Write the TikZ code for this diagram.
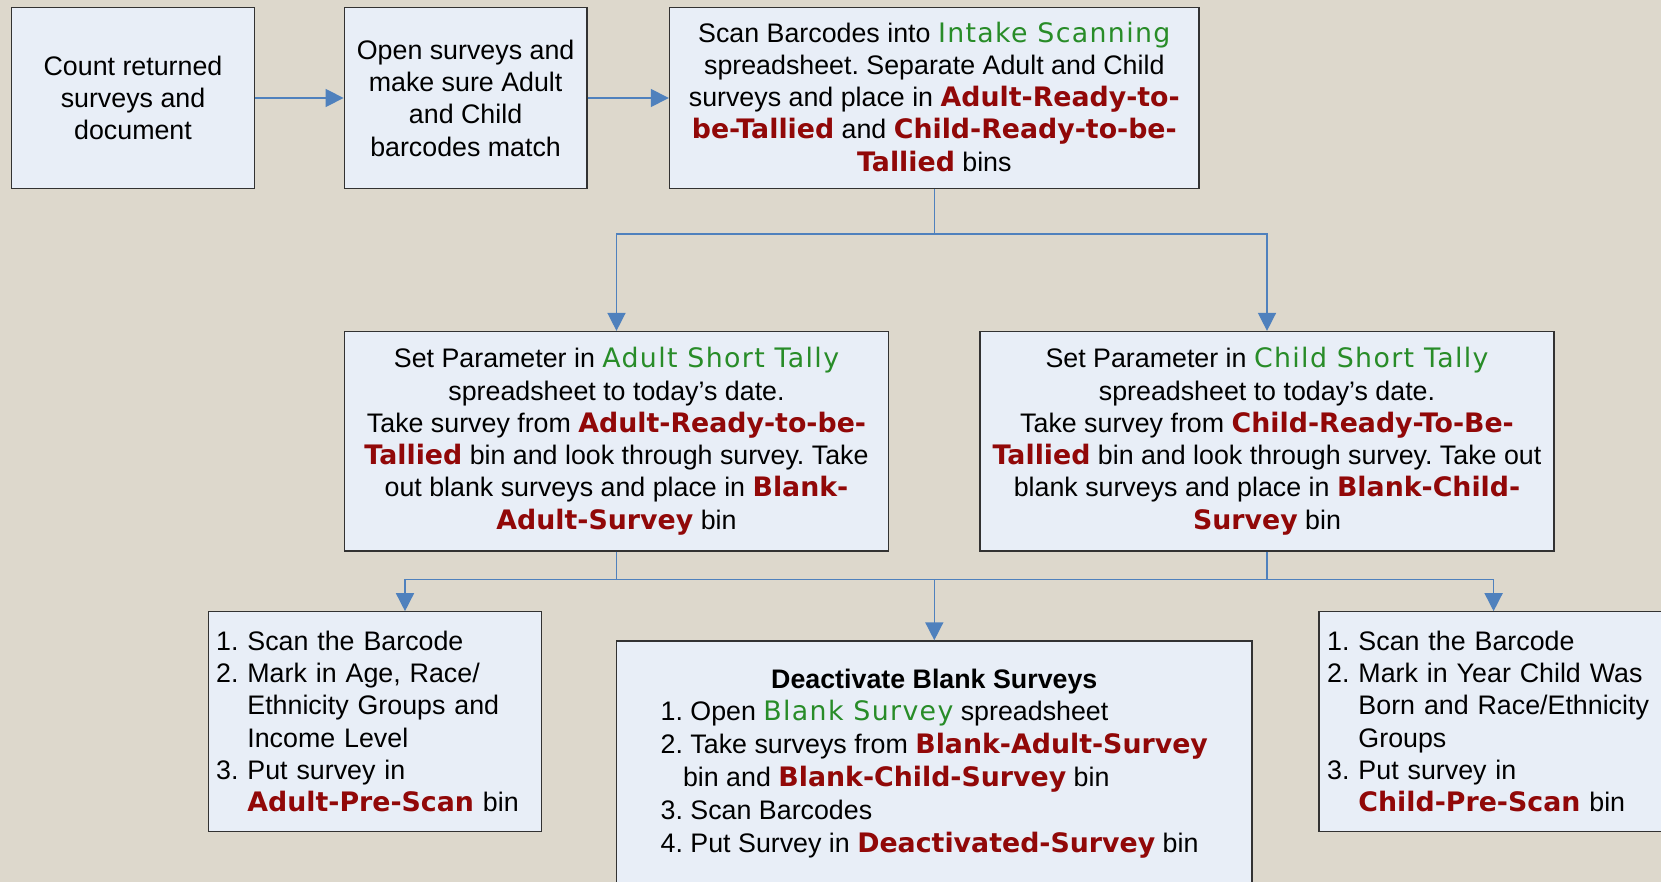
\documentclass[tikz,border=0pt]{standalone}
\usepackage{fontspec}
\setmainfont{Liberation Sans}
\newfontfamily\dvfont{DejaVu Sans}
\newfontfamily\dvgreen{DejaVu Sans}[LetterSpace=5.0]
\usetikzlibrary{arrows.meta}
\definecolor{bgc}{RGB}{221,216,204}
\definecolor{boxfill}{RGB}{232,238,247}
\definecolor{boxline}{RGB}{50,50,50}
\definecolor{conncol}{RGB}{79,129,189}
\definecolor{redtxt}{RGB}{145,8,8}
\definecolor{greentxt}{RGB}{40,140,40}
\newcommand\redb[1]{{\color{redtxt}\dvfont\bfseries #1}}
\newcommand\grn[1]{{\color{greentxt}\dvgreen #1}}
\tikzset{
  box/.style={draw=boxline, line width=0.7pt, fill=boxfill, rectangle, inner xsep=2pt, inner ysep=2pt,
    font=\fontsize{13.4}{16.15}\selectfont\frenchspacing},
  cbox/.style={box, align=center},
  lbox/.style={box, align=left},
  conn/.style={draw=conncol, line width=0.75pt},
  arr/.style={conn, -{Triangle[length=9pt,width=9pt]}}
}
\begin{document}
\begin{tikzpicture}[x=0.5pt,y=-0.5pt]
\clip (0,0) rectangle (1661,882);
\fill[bgc] (0,0) rectangle (1661,882);

\node[cbox, minimum width=121.25pt, minimum height=90.6pt] (b1) at (133,98)
  {Count returned\\surveys and\\document};
\node[cbox, minimum width=121.3pt, minimum height=90.6pt] (b2) at (465.6,98)
  {Open surveys and\\make sure Adult\\and Child\\barcodes match};
\node[box, minimum width=264.8pt, minimum height=90.6pt] (b3) at (934.3,98)
  {\raisebox{-1.1pt}[\height][\depth]{\begin{tabular}{@{}c@{}}Scan Barcodes into \grn{Intake Scanning}\\spreadsheet. Separate Adult and Child\\surveys and place in \redb{Adult-Ready-to-}\\\redb{be-Tallied} and \redb{Child-Ready-to-be-}\\\redb{Tallied} bins\end{tabular}}};

\node[cbox, minimum width=272.25pt, minimum height=109.6pt] (b4) at (616.5,441.2)
  {Set Parameter in \grn{Adult Short Tally}\\spreadsheet to today’s date.\\Take survey from \redb{Adult-Ready-to-be-}\\\redb{Tallied} bin and look through survey. Take\\out blank surveys and place in \redb{Blank-}\\\redb{Adult-Survey} bin};
\node[cbox, minimum width=287pt, minimum height=109.6pt] (b5) at (1267,441.2)
  {Set Parameter in \grn{Child Short Tally}\\spreadsheet to today’s date.\\Take survey from \redb{Child-Ready-To-Be-}\\\redb{Tallied} bin and look through survey. Take out\\blank surveys and place in \redb{Blank-Child-}\\\redb{Survey} bin};

\node[lbox, inner xsep=3.7pt, text width=158.9pt, minimum height=110.2pt] (b7) at (375,721.4)
  {1. Scan the Barcode\\2. Mark in Age, Race/\\\hphantom{2. }Ethnicity Groups and\\\hphantom{2. }Income Level\\3. Put survey in\\\hphantom{3. }\redb{Adult-Pre-Scan} bin};
\node[box, minimum width=317.8pt, minimum height=122.5pt, font=\fontsize{13.4}{16.4}\selectfont\frenchspacing] (b6) at (934.3,763.5)
  {\begin{tabular}{@{}l@{}}
   \multicolumn{1}{c}{\bfseries Deactivate Blank Surveys}\\
   1. Open \grn{Blank Survey} spreadsheet\\
   2. Take surveys from \redb{Blank-Adult-Survey}\\
   \hphantom{2.}bin and \redb{Blank-Child-Survey} bin\\
   3. Scan Barcodes\\
   4. Put Survey in \redb{Deactivated-Survey} bin
   \end{tabular}};
\node[lbox, inner xsep=4.2pt, text width=177.2pt, minimum height=110.2pt] (b8) at (1504.4,721.4)
  {1. Scan the Barcode\\2. Mark in Year Child Was\\\hphantom{2. }Born and Race/Ethnicity\\\hphantom{2. }Groups\\3. Put survey in\\\hphantom{3. }\redb{Child-Pre-Scan} bin};

\coordinate (j1) at (0,234);
\coordinate (j2) at (0,579.5);
\coordinate (a7) at (405,611.2);
\coordinate (a8) at (1493.6,611.2);

\draw[arr] (b1.east) -- (b2.west);
\draw[arr] (b2.east) -- (b3.west);
\draw[conn] (b3.south) -- (b3.south |- j1);
\draw[arr] (b3.south |- j1) -| (b4.north);
\draw[arr] (b3.south |- j1) -| (b5.north);
\draw[arr] (b4.south) -- (b4.south |- j2) -| (a7);
\draw[arr] (b4.south |- j2) -| (b6.north);
\draw[arr] (b5.south) -- (b5.south |- j2) -| (a8);
\draw[conn] (b5.south |- j2) -- (b6.north |- j2);
\end{tikzpicture}
\end{document}
